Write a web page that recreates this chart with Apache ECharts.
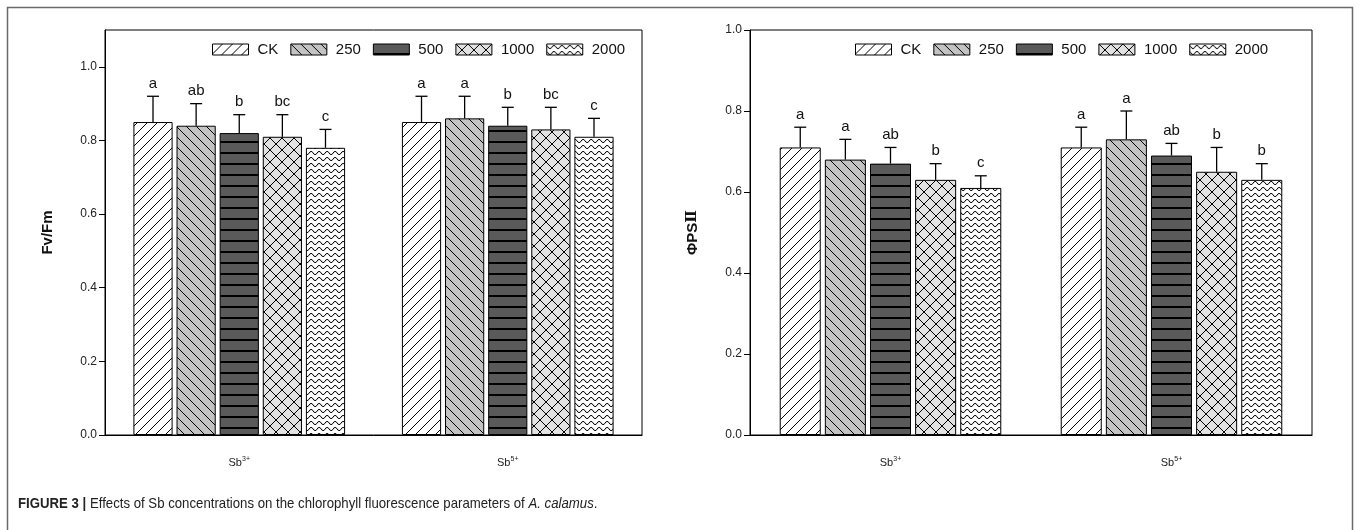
<!DOCTYPE html>
<html>
<head>
<meta charset="utf-8">
<script src="https://cdn.jsdelivr.net/npm/echarts@6/dist/echarts.min.js"></script>
<style>
  html, body { margin: 0; padding: 0; background: #fff; }
  #chart { width: 1360px; height: 530px; }
</style>
</head>
<body>
<div id="chart"></div>
<script>
// data
const groups = ['Sb3+', 'Sb5+'];
const levels = ['CK', '250', '500', '1000', '2000'];
const yTicks = [0, 0.2, 0.4, 0.6, 0.8, 1.0];

// one row per level: [Sb3+, Sb5+]
const fvfmMean = [[0.85, 0.85], [0.84, 0.86], [0.82, 0.84], [0.81, 0.83], [0.78, 0.81]];
const fvfmSd = [[0.07, 0.07], [0.06, 0.06], [0.05, 0.05], [0.06, 0.06], [0.05, 0.05]];
const fvfmLetters = [['a', 'a'], ['ab', 'a'], ['b', 'b'], ['bc', 'bc'], ['c', 'c']];

const phiMean = [[0.71, 0.71], [0.68, 0.73], [0.67, 0.69], [0.63, 0.65], [0.61, 0.63]];
const phiSd = [[0.05, 0.05], [0.05, 0.07], [0.04, 0.03], [0.04, 0.06], [0.03, 0.04]];
const phiLetters = [['a', 'a'], ['a', 'a'], ['ab', 'ab'], ['b', 'b'], ['c', 'b']];

const FONT = '"Liberation Sans", Arial, sans-serif';
const BAR_W = 0.146;   // share of the category band
const BAR_GAP = 0.1;   // share of bar width

// hatch fills, drawn once on small canvases
function tile(w, h, bg, draw) {
  const c = document.createElement('canvas');
  c.width = w; c.height = h;
  const ctx = c.getContext('2d');
  ctx.fillStyle = bg;
  ctx.fillRect(0, 0, w, h);
  ctx.strokeStyle = '#000';
  ctx.lineWidth = 1;
  draw(ctx);
  return { image: c, repeat: 'repeat' };
}
function diag(ctx, s, dir) {
  ctx.beginPath();
  if (dir > 0) {
    ctx.moveTo(-1, s + 1); ctx.lineTo(s + 1, -1);
    ctx.moveTo(-2, 2); ctx.lineTo(2, -2);
    ctx.moveTo(s - 2, s + 2); ctx.lineTo(s + 2, s - 2);
  } else {
    ctx.moveTo(-1, -1); ctx.lineTo(s + 1, s + 1);
    ctx.moveTo(s - 2, -2); ctx.lineTo(s + 2, 2);
    ctx.moveTo(-2, s - 2); ctx.lineTo(2, s + 2);
  }
  ctx.stroke();
}
const fills = [
  tile(10, 10, '#ffffff', ctx => diag(ctx, 10, 1)),
  tile(10, 10, '#c3c3c3', ctx => diag(ctx, 10, -1)),
  tile(4, 11, '#5a5a5a', ctx => { ctx.lineWidth = 2; ctx.beginPath(); ctx.moveTo(0, 10); ctx.lineTo(4, 10); ctx.stroke(); }),
  tile(12, 12, '#e2e2e2', ctx => { diag(ctx, 12, 1); diag(ctx, 12, -1); }),
  tile(8, 6, '#ffffff', ctx => { ctx.beginPath(); ctx.moveTo(0, 1.5); ctx.quadraticCurveTo(2, 5.5, 4, 4.5); ctx.quadraticCurveTo(6, 0.5, 8, 1.5); ctx.stroke(); })
];

function barSeries(mean, gi) {
  return levels.map((name, li) => ({
    name: name,
    type: 'bar',
    xAxisIndex: gi, yAxisIndex: gi,
    barWidth: (BAR_W * 100) + '%',
    barGap: (BAR_GAP * 100) + '%',
    itemStyle: { color: fills[li], borderColor: '#000', borderWidth: 1 },
    data: mean[li],
    silent: true
  }));
}

function errSeries(mean, sd, letters, gi) {
  const data = [];
  levels.forEach((_, li) => groups.forEach((_, ci) => {
    data.push([ci, li, mean[li][ci], mean[li][ci] + sd[li][ci]]);
  }));
  return {
    type: 'custom',
    xAxisIndex: gi, yAxisIndex: gi,
    silent: true,
    z: 5,
    data: data,
    encode: { x: 0, y: 3 },
    renderItem: function (params, api) {
      const ci = api.value(0), li = api.value(1);
      const band = api.size([1, 0])[0];
      const stride = band * BAR_W * (1 + BAR_GAP);
      const base = api.coord([ci, api.value(2)]);
      const x = base[0] + (li - 2) * stride;
      const yTop = api.coord([ci, api.value(3)])[1];
      return {
        type: 'group',
        children: [
          { type: 'line', shape: { x1: x, y1: base[1], x2: x, y2: yTop }, style: { stroke: '#000', lineWidth: 1.3 } },
          { type: 'line', shape: { x1: x - 6, y1: yTop, x2: x + 6, y2: yTop }, style: { stroke: '#000', lineWidth: 1.3 } },
          { type: 'text', style: { text: letters[li][ci], x: x, y: yTop - 5, align: 'center', verticalAlign: 'bottom',
              font: '15px ' + FONT, fill: '#111' } }
        ]
      };
    }
  };
}

function yAxis(gi, max, name) {
  return {
    type: 'value', gridIndex: gi, min: 0, max: max,
    name: name, nameLocation: 'middle', nameGap: 50,
    nameTextStyle: {
      fontFamily: FONT, fontSize: 15, fontWeight: 'bold', color: '#111',
      rich: { r: { fontFamily: '"DejaVu Serif", "Liberation Serif", serif', fontSize: 15, fontWeight: 'bold', color: '#111' } }
    },
    axisLine: { show: true, lineStyle: { color: '#000', width: 1 } },
    axisTick: { show: true, length: 6, lineStyle: { color: '#000' }, customValues: yTicks },
    axisLabel: { fontFamily: FONT, fontSize: 12, color: '#222', margin: 8,
      customValues: yTicks, formatter: v => v.toFixed(1) },
    splitLine: { show: false }
  };
}

function xAxis(gi) {
  return {
    type: 'category', gridIndex: gi, data: groups,
    axisLine: { lineStyle: { color: '#000' } },
    axisTick: { alignWithLabel: true, length: 6, lineStyle: { color: '#000' } },
    axisLabel: {
      margin: 21, fontFamily: FONT, fontSize: 11, color: '#222',
      formatter: v => v.replace(/(\d\+)/, '{s|$1}'),
      rich: { s: { fontSize: 7, fontFamily: FONT, color: '#222', verticalAlign: 'top', padding: [0, 0, 6, 0] } }
    }
  };
}

function legend(gi, left) {
  return {
    left: left, top: 42, padding: 0,
    data: levels.map(n => ({ name: n, icon: 'rect' })),
    itemWidth: 36, itemHeight: 11, itemGap: 12,
    itemStyle: { borderColor: '#000', borderWidth: 1 },
    textStyle: { fontFamily: FONT, fontSize: 15, color: '#111', padding: [0, 0, 0, 4] },
    selectedMode: false
  };
}

const chart = echarts.init(document.getElementById('chart'), null, { renderer: 'canvas' });

const option = {
  animation: false,
  backgroundColor: '#fff',
  grid: [
    { left: 105, right: 718, top: 30, bottom: 95, show: true, borderColor: '#000', borderWidth: 1 },
    { left: 750, right: 48, top: 30, bottom: 95, show: true, borderColor: '#000', borderWidth: 1 }
  ],
  xAxis: [xAxis(0), xAxis(1)],
  yAxis: [yAxis(0, 1.1, 'Fv/Fm'), yAxis(1, 1.0, 'ΦPS{r|Ⅱ}')],
  legend: [legend(0, 212), legend(1, 855)],
  series: [].concat(
    barSeries(fvfmMean, 0),
    barSeries(phiMean, 1),
    [errSeries(fvfmMean, fvfmSd, fvfmLetters, 0), errSeries(phiMean, phiSd, phiLetters, 1)]
  ),
  graphic: [
    { type: 'rect', shape: { x: 7.5, y: 7.5, width: 1345, height: 600 }, style: { fill: null, stroke: '#6a6a6a', lineWidth: 1.5 }, silent: true },
    {
      type: 'text', x: 18, y: 496, scaleX: 0.88, silent: true,
      style: {
        text: '{b|FIGURE 3 |} Effects of Sb concentrations on the chlorophyll fluorescence parameters of {i|A. calamus}.',
        font: '15px ' + FONT, fill: '#222',
        rich: {
          b: { fontWeight: 'bold', fontSize: 15, fontFamily: FONT, fill: '#222' },
          i: { fontStyle: 'italic', fontSize: 15, fontFamily: FONT, fill: '#222' }
        }
      }
    }
  ]
};

chart.setOption(option);
</script>
</body>
</html>
